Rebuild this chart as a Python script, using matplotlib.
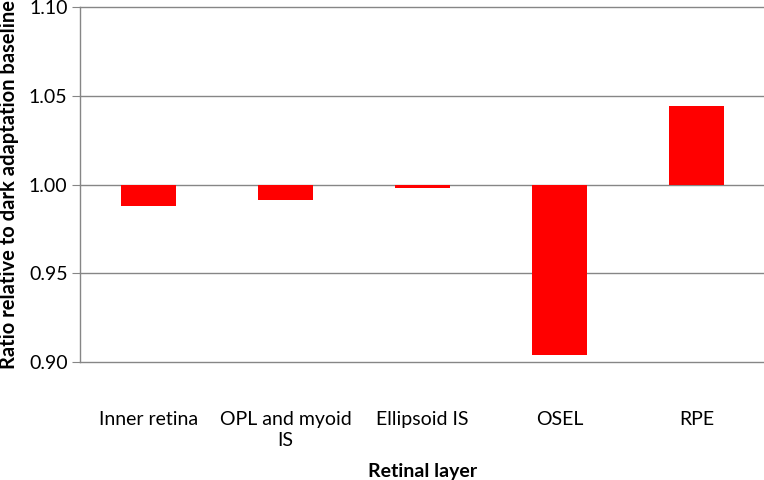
import matplotlib.pyplot as plt
import numpy as np

# Data
layers = ['Inner retina', 'OPL and myoid\nIS', 'Ellipsoid IS', 'OSEL', 'RPE']
ratios = [0.988, 0.991, 0.998, 0.904, 1.044]
baseline = 1.0
yticks = [0.90, 0.95, 1.00, 1.05, 1.10]

plt.rcParams['font.family'] = ['Lato', 'DejaVu Sans']

fig = plt.figure(figsize=(7.64, 4.8), dpi=100)
ax = fig.add_axes([80 / 764, 118 / 480, 685 / 764, 355 / 480])

x = np.arange(len(layers))
heights = [r - baseline for r in ratios]
ax.bar(x, heights, bottom=baseline, width=0.4, color='#ff0000', zorder=3)

ax.set_xlim(-0.5, len(layers) - 0.5)
ax.set_ylim(0.90, 1.10)
ax.set_yticks(yticks)
ax.set_yticklabels(['{:.2f}'.format(t) for t in yticks], fontsize=14)
ax.set_xticks(x)
ax.set_xticklabels(layers, fontsize=14, linespacing=1.3, va='top')

# gridlines
for t in yticks:
    ax.axhline(t, color='#868686', linewidth=1.0, zorder=1, clip_on=False)

for s in ['top', 'right', 'bottom']:
    ax.spines[s].set_visible(False)
ax.spines['left'].set_color('#868686')
ax.spines['left'].set_linewidth(1.0)
ax.tick_params(axis='y', length=6, color='#868686', pad=3)
ax.tick_params(axis='x', length=0, pad=35)

ax.set_xlabel('Retinal layer', fontsize=14, fontweight='bold')
ax.xaxis.set_label_coords(0.5, (362 - 463) / 355)
ax.set_ylabel('Ratio relative to dark adaptation baseline', fontsize=14.5,
              fontweight='bold', va='center')
ax.yaxis.set_label_coords((9 - 80) / 685, 0.5)

fig.savefig('out.png', dpi=100)
